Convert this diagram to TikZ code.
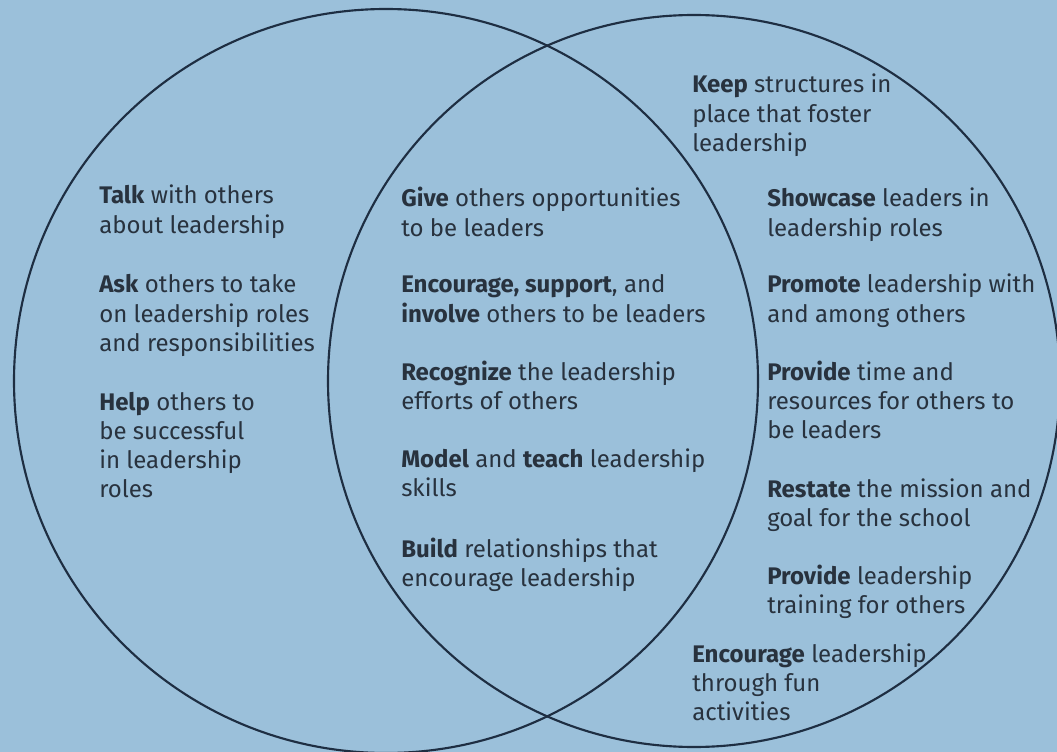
\documentclass[tikz,border=0pt]{standalone}
\usepackage{fontspec}
\setmainfont{Fira Sans}
\usepackage{tikz}
\definecolor{sky}{RGB}{155,192,218}
\definecolor{ink}{RGB}{40,50,62}
\definecolor{rim}{RGB}{30,46,66}
\newcommand{\drawrim}{\draw[rim, line width=1.6pt]}
\newcommand{\cue}[4]{\node[anchor=base west, inner sep=0pt, text=ink,
  font=\fontsize{18}{22}\selectfont] (#1) at (#2,#3)
  {\begin{tabular}[t]{@{}l@{}}#4\end{tabular}};}

\begin{document}
\begin{tikzpicture}[x=0.75pt, y=-0.75pt]
\fill[sky] (0,0) rectangle (1057,752);
\useasboundingbox (0,0) rectangle (1057,752);
\drawrim (386,381) circle (279pt);
\drawrim (694,381) circle (274.5pt);
% left circle only
\cue{talk}{99}{204}{\textbf{Talk} with others\\about leadership}
\cue{ask}{99}{293}{\textbf{Ask} others to take\\on leadership roles\\and responsibilities}
\cue{help}{99}{410}{\textbf{Help} others to\\be successful\\in leadership\\roles}
% overlap
\cue{give}{401}{207}{\textbf{Give} others opportunities\\to be leaders}
\cue{encourage}{401}{293}{\textbf{Encourage, support}, and\\\textbf{involve} others to be leaders}
\cue{recognize}{401}{380}{\textbf{Recognize} the leadership\\efforts of others}
\cue{model}{401}{467}{\textbf{Model} and \textbf{teach} leadership\\skills}
\cue{build}{401}{557}{\textbf{Build} relationships that\\encourage leadership}
% right circle only
\cue{keep}{692}{93}{\textbf{Keep} structures in\\place that foster\\leadership}
\cue{showcase}{767}{207}{\textbf{Showcase} leaders in\\leadership roles}
\cue{promote}{767}{293}{\textbf{Promote} leadership with\\and among others}
\cue{time}{767}{380}{\textbf{Provide} time and\\resources for others to\\be leaders}
\cue{restate}{767}{497}{\textbf{Restate} the mission and\\goal for the school}
\cue{training}{767}{584}{\textbf{Provide} leadership\\training for others}
\cue{fun}{692}{662}{\textbf{Encourage} leadership\\through fun\\activities}
\end{tikzpicture}
\end{document}
